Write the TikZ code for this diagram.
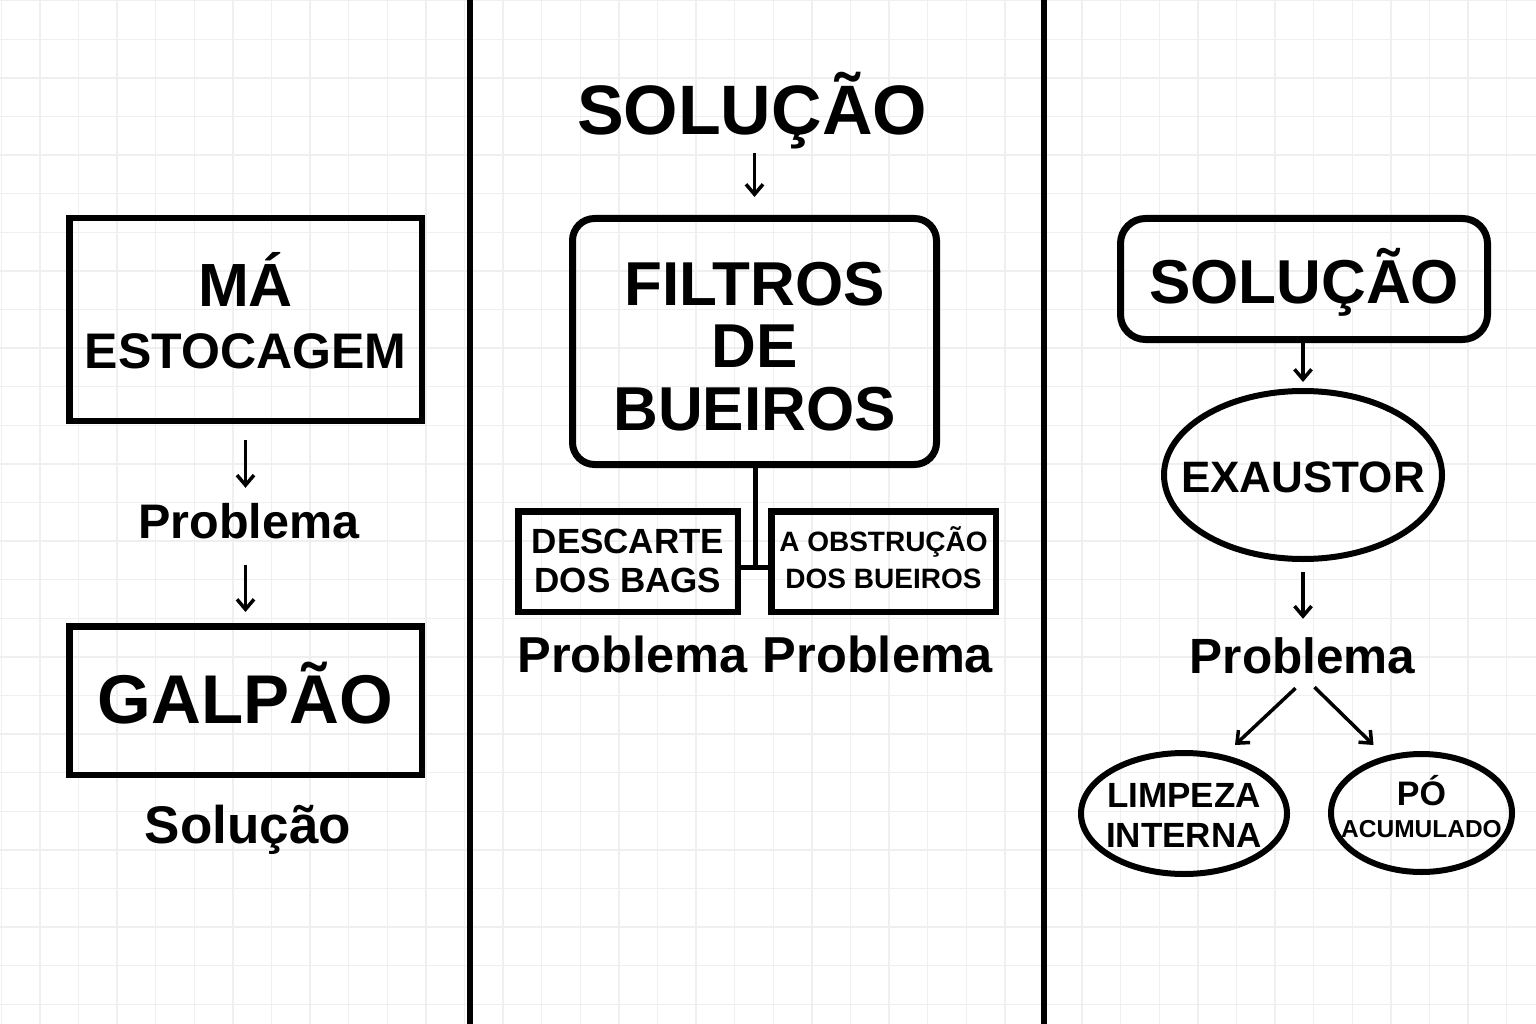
\documentclass[tikz,border=0pt]{standalone}
\usepackage{fontspec}
\setmainfont{Liberation Sans}
\usetikzlibrary{arrows.meta,shapes.geometric,calc}
\definecolor{gridgray}{HTML}{EFEFEF}

\tikzset{
  grid line/.style={draw=gridgray, line width=1.3pt},
  divider/.style={line width=6.5pt},
  sharp box/.style={draw, line width=6.5pt, inner sep=0pt, align=center, text depth=0pt},
  round box/.style={sharp box, line width=7pt, rounded corners=22pt},
  oval/.style={draw, ellipse, line width=6pt, inner xsep=-30pt, inner ysep=0pt, align=center, text depth=0pt},
  caption/.style={inner sep=0pt, anchor=base, text height=35pt, text depth=0pt},
  down/.style={-{Straight Barb[length=10pt,width=17pt]}, line width=3.5pt},
  tree/.style={line width=5pt}
}
\newcommand\bsize[2]{\bfseries\fontsize{#1}{#2}\selectfont}

\begin{document}
\begin{tikzpicture}[x=1pt,y=-1pt]
\useasboundingbox (0,0) rectangle (1536,1024);
\fill[white] (0,0) rectangle (1536,1024);

% squared paper
\foreach \i in {0,...,39}
  \draw[grid line] (1.3+38.6*\i,0) -- (1.3+38.6*\i,1024);
\foreach \j in {0,...,26}
  \draw[grid line] (0,0.7+38.6*\j) -- (1536,0.7+38.6*\j);

\draw[divider] (470,0) -- (470,1024);
\draw[divider] (1044,0) -- (1044,1024);

% left column
\node[sharp box, minimum width=352.5pt, minimum height=202.5pt, text height=97pt,
  font=\bsize{50}{61.3}] (ma) at (245.5,319.5) {{\fontsize{61}{61.3}\selectfont MÁ}\\ESTOCAGEM};
\node[caption, font=\bsize{48.5}{50}] (probA) at (249,538) {Problema};
\node[sharp box, minimum width=352.5pt, minimum height=148.5pt, text height=45pt,
  font=\bsize{69}{70}] (galpao) at (245.5,700.5) {GALPÃO};
\node[caption, font=\bsize{53}{55}] (solA) at (248,843) {Solução};

\draw[down, shorten <=16pt, shorten >=15pt] (ma.south) -- (ma.south |- probA.north);
\draw[down, shorten <=27pt, shorten >=11pt] (probA.south -| galpao.north) -- (galpao.north);

% middle column
\node[caption, font=\bsize{70}{72}] (solB) at (752,135) {SOLUÇÃO};
\node[round box, minimum width=364pt, minimum height=246pt, text height=177pt,
  font=\bsize{62}{62.5}] (filtros) at (754.5,341.5) {FILTROS\\DE\\BUEIROS};
\node[sharp box, minimum width=219.5pt, minimum height=100.5pt, text height=61pt,
  font=\bsize{35}{39}] (descarte) at (628,561.5) {DESCARTE\\DOS BAGS};
\node[sharp box, minimum width=224.5pt, minimum height=100.5pt, text height=53pt,
  font=\bsize{28}{37}] (obstr) at (883.5,561.5) {A OBSTRUÇÃO\\DOS BUEIROS};
\node[caption, font=\bsize{50.5}{52}] (probB) at (632.5,672) {Problema};
\node[caption, font=\bsize{50.5}{52}] (probBB) at (878,672) {Problema};

\draw[down, shorten <=18pt, shorten >=18pt] (solB.south -| filtros.north) -- (filtros.north);
\coordinate (junc) at (755.5,567);
\draw[tree] (filtros.south -| junc) -- (junc);
\draw[tree] (descarte.east |- junc) -- (obstr.west |- junc);

% right column
\node[round box, rounded corners=25pt, minimum width=367pt, minimum height=121pt, text height=48pt,
  font=\bsize{62}{64}] (solC) at (1304,279) {SOLUÇÃO};
\node[oval, minimum width=278pt, minimum height=168pt, text height=34pt,
  font=\bsize{44}{46}] (exaustor) at (1303,475) {EXAUSTOR};
\node[caption, font=\bsize{49.5}{51}] (probC) at (1302.5,673) {Problema};
\node[oval, minimum width=206pt, minimum height=121pt, text height=67pt,
  font=\bsize{35}{40}] (limpeza) at (1184,813.5) {LIMPEZA\\INTERNA};
\node[oval, minimum width=181pt, minimum height=118pt, text height=48pt,
  font=\bsize{24.5}{32}] (po) at (1421.5,813) {{\fontsize{34}{32}\selectfont PÓ}\\ACUMULADO};

\draw[down, shorten >=6pt] (solC.south -| exaustor.north) -- (exaustor.north);
\draw[down, shorten <=10pt, shorten >=19pt] (exaustor.south) -- (exaustor.south |- probC.north);
\draw[down] ($(probC.south)+(-7,15)$) -- ($(limpeza.north)+(51,-5)$);
\draw[down] ($(probC.south)+(12,14)$) -- ($(po.north)+(-48,-6)$);
\end{tikzpicture}
\end{document}
